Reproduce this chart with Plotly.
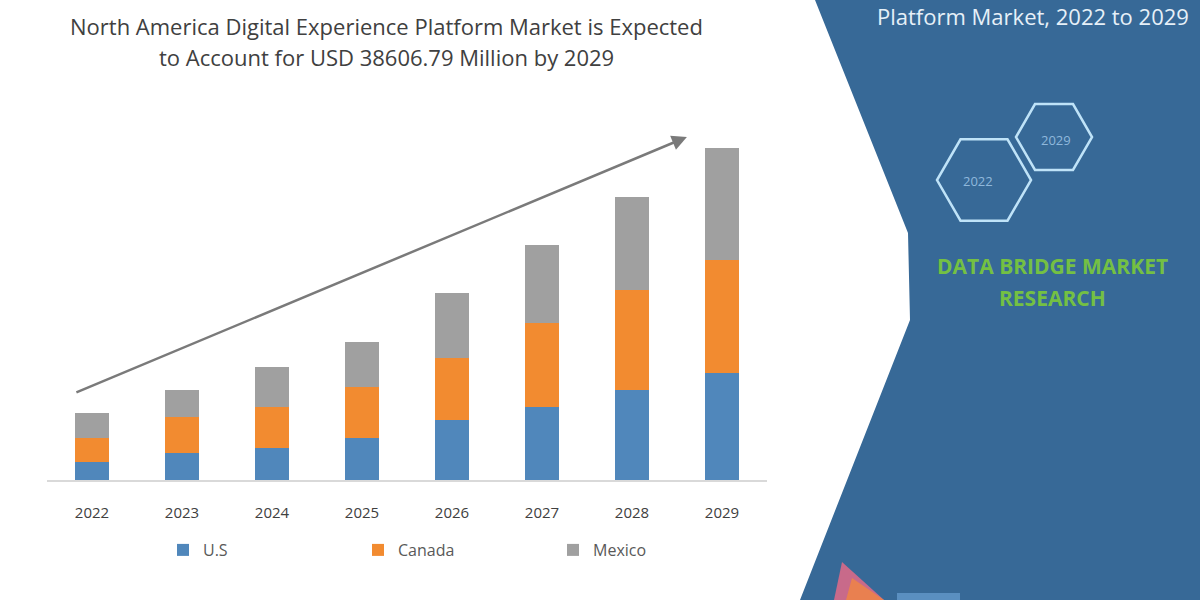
import plotly.graph_objects as go
import math

years = ["2022", "2023", "2024", "2025", "2026", "2027", "2028", "2029"]
us = [18, 27, 32, 42, 60, 73, 90, 107]
canada = [24, 36, 41, 51, 62, 84, 100, 113]
mexico = [25, 27, 40, 45, 65, 78, 93, 112]

title_lines = ["North America Digital Experience Platform Market is Expected",
               "to Account for USD 38606.79 Million by 2029"]
panel_text = "Platform Market, 2022 to 2029"
brand_lines = ["DATA BRIDGE MARKET", "RESEARCH"]
hex_years = ["2022", "2029"]

W, H = 1200, 600
def px(x):
    return x / W
def py(y):
    return 1 - y / H

fig = go.Figure()
colors = {"U.S": "#5087bb", "Canada": "#f28b30", "Mexico": "#a0a0a0"}
for name, vals in [("U.S", us), ("Canada", canada), ("Mexico", mexico)]:
    fig.add_trace(go.Bar(x=years, y=vals, name=name, marker_color=colors[name],
                         marker_line_width=0, width=0.38))

shapes = []
# right blue panel
shapes.append(dict(type="path", xref="paper", yref="paper",
                   path=f"M {px(815)} {py(0)} L {px(908)} {py(233)} L {px(910)} {py(320)} L {px(800)} {py(600)} L 1 0 L 1 1 Z",
                   fillcolor="#376997", line=dict(width=0), layer="below"))

def hexagon(cx, cy, r):
    pts = []
    for k in range(6):
        a = math.radians(60 * k)
        pts.append((px(cx + r * math.cos(a)), py(cy + r * math.sin(a))))
    return "M " + " L ".join(f"{x} {y}" for x, y in pts) + " Z"

shapes.append(dict(type="path", xref="paper", yref="paper", path=hexagon(984, 180, 47),
                   line=dict(color="#bfe3f8", width=2.5)))
shapes.append(dict(type="path", xref="paper", yref="paper", path=hexagon(1054, 137, 38),
                   line=dict(color="#bfe3f8", width=2.5)))
# small logo
shapes.append(dict(type="path", xref="paper", yref="paper",
                   path=f"M {px(834)} {py(600)} L {px(842)} {py(562)} L {px(884)} {py(600)} Z",
                   fillcolor="#c86a8a", line=dict(width=0)))
shapes.append(dict(type="path", xref="paper", yref="paper",
                   path=f"M {px(846)} {py(600)} L {px(852)} {py(578)} L {px(884)} {py(600)} Z",
                   fillcolor="#e98050", line=dict(width=0)))
shapes.append(dict(type="rect", xref="paper", yref="paper",
                   x0=px(897), x1=px(960), y0=py(600), y1=py(593),
                   fillcolor="#5a8fc0", line=dict(width=0)))

title_font = dict(family="Open Sans", size=22, color="#404040")
annotations = [
    dict(text=title_lines[0], x=px(386), y=py(26), xref="paper", yref="paper",
         showarrow=False, font=title_font, xanchor="center", yanchor="middle"),
    dict(text=title_lines[1], x=px(386), y=py(57), xref="paper", yref="paper",
         showarrow=False, font=title_font, xanchor="center", yanchor="middle"),
    dict(text=panel_text, x=px(1033), y=py(16), xref="paper", yref="paper",
         showarrow=False, font=dict(family="Open Sans", size=22, color="#e6f0f8"),
         xanchor="center", yanchor="middle"),
    dict(text=brand_lines[0], x=px(1052), y=py(266), xref="paper", yref="paper",
         showarrow=False, font=dict(family="Open Sans", size=21, color="#74c043", weight="bold"),
         xanchor="center", yanchor="middle"),
    dict(text=brand_lines[1], x=px(1052), y=py(298), xref="paper", yref="paper",
         showarrow=False, font=dict(family="Open Sans", size=21, color="#74c043", weight="bold"),
         xanchor="center", yanchor="middle"),
    dict(text=hex_years[0], x=px(978), y=py(181), xref="paper", yref="paper",
         showarrow=False, font=dict(family="Open Sans", size=13, color="#8fb8dc"),
         xanchor="center", yanchor="middle"),
    dict(text=hex_years[1], x=px(1056), y=py(140), xref="paper", yref="paper",
         showarrow=False, font=dict(family="Open Sans", size=13, color="#8fb8dc"),
         xanchor="center", yanchor="middle"),
    # trend arrow
    dict(x=6.61, y=343, ax=-0.19, ay=87, xref="x", yref="y", axref="x", ayref="y",
         text="", showarrow=True, arrowhead=2, arrowsize=1.2, arrowwidth=2.5,
         arrowcolor="#7a7a7a"),
]

fig.update_layout(
    width=W, height=H,
    margin=dict(l=0, r=0, t=0, b=0),
    paper_bgcolor="white", plot_bgcolor="white",
    barmode="stack",
    showlegend=True,
    legend=dict(orientation="h", x=px(163), y=py(550), xanchor="left", yanchor="middle",
                entrywidth=150, entrywidthmode="pixels", traceorder="normal",
                bgcolor="rgba(0,0,0,0)",
                font=dict(family="Open Sans", size=16, color="#595959")),
    xaxis=dict(domain=[px(47), px(767)], showgrid=False, showline=True,
               linecolor="#d9d9d9", linewidth=2, ticks="", ticklabelstandoff=18,
               tickfont=dict(family="Open Sans", size=15, color="#404040"),
               anchor="y"),
    yaxis=dict(domain=[py(480), py(80)], range=[0, 400], visible=False),
    shapes=shapes,
    annotations=annotations,
)

fig.write_html("out.html")
